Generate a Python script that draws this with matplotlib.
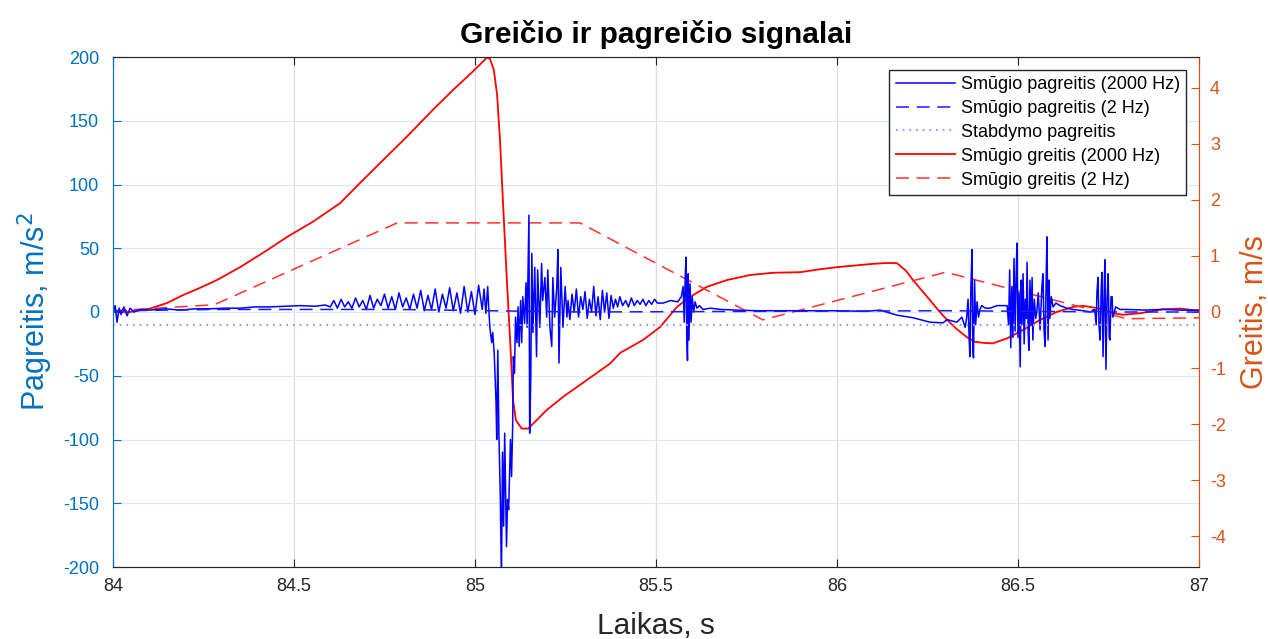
import numpy as np
import matplotlib
matplotlib.use('Agg')
import matplotlib.pyplot as plt

plt.rcParams['font.family'] = ['Liberation Sans', 'DejaVu Sans']
plt.rcParams['axes.unicode_minus'] = False

# smugio pagreitis (2000 Hz), m/s^2
t_acc = [84.000, 84.006, 84.011, 84.017, 84.022, 84.030, 84.039, 84.047, 84.058, 84.075,
         84.102, 84.144, 84.185, 84.227, 84.268, 84.309, 84.351, 84.392, 84.434, 84.475,
         84.517, 84.558, 84.586, 84.60, 84.61, 84.62, 84.63, 84.64, 84.65, 84.66,
         84.67, 84.68, 84.69, 84.70, 84.71, 84.72, 84.73, 84.74, 84.75, 84.76,
         84.77, 84.78, 84.79, 84.80, 84.81, 84.82, 84.83, 84.84, 84.85, 84.86,
         84.87, 84.88, 84.89, 84.90, 84.91, 84.92, 84.93, 84.94, 84.95, 84.96,
         84.97, 84.98, 84.99, 85.00, 85.01, 85.02, 85.025, 85.03, 85.035, 85.038,
         85.041, 85.046, 85.049, 85.053, 85.058, 85.060, 85.063, 85.066, 85.070, 85.073,
         85.076, 85.079, 85.082, 85.087, 85.090, 85.093, 85.098, 85.101, 85.104, 85.106,
         85.109, 85.112, 85.116, 85.119, 85.122, 85.126, 85.129, 85.132, 85.137, 85.141,
         85.144, 85.149, 85.151, 85.154, 85.157, 85.160, 85.165, 85.170, 85.173, 85.179,
         85.184, 85.187, 85.193, 85.198, 85.201, 85.207, 85.212, 85.215, 85.220, 85.226,
         85.229, 85.232, 85.237, 85.243, 85.249, 85.254, 85.257, 85.262, 85.268, 85.274,
         85.280, 85.286, 85.292, 85.298, 85.304, 85.310, 85.316, 85.322, 85.328, 85.334,
         85.340, 85.346, 85.352, 85.358, 85.364, 85.370, 85.376, 85.382, 85.388, 85.394,
         85.400, 85.408, 85.416, 85.424, 85.432, 85.440, 85.448, 85.456, 85.464, 85.472,
         85.480, 85.488, 85.496, 85.504, 85.520, 85.540, 85.560, 85.570, 85.575, 85.578,
         85.581, 85.583, 85.585, 85.587, 85.589, 85.591, 85.594, 85.597, 85.600, 85.604,
         85.608, 85.613, 85.620, 85.630, 85.650, 85.680, 85.720, 85.780, 85.850, 85.900,
         86.000, 86.080, 86.119, 86.166, 86.210, 86.257, 86.293, 86.304, 86.331, 86.345,
         86.354, 86.358, 86.362, 86.365, 86.367, 86.370, 86.373, 86.375, 86.377, 86.380,
         86.383, 86.387, 86.391, 86.395, 86.400, 86.410, 86.423, 86.442, 86.470, 86.474,
         86.477, 86.480, 86.483, 86.486, 86.489, 86.492, 86.495, 86.497, 86.500, 86.503,
         86.506, 86.509, 86.511, 86.514, 86.517, 86.520, 86.523, 86.525, 86.528, 86.530,
         86.533, 86.536, 86.539, 86.541, 86.545, 86.549, 86.552, 86.556, 86.561, 86.566,
         86.569, 86.572, 86.575, 86.578, 86.580, 86.583, 86.586, 86.588, 86.592, 86.597,
         86.605, 86.616, 86.635, 86.652, 86.680, 86.700, 86.712, 86.716, 86.718, 86.721,
         86.724, 86.727, 86.730, 86.732, 86.735, 86.738, 86.740, 86.743, 86.746, 86.749,
         86.752, 86.754, 86.757, 86.760, 86.762, 86.770, 86.782, 86.800, 86.850, 86.900,
         86.950, 87.000]
acc_2000 = [0, 5, -8, 3, -2, 4, -3, 3, 0, 2,
            1.5, 2.5, 1.5, 2.5, 2.5, 3, 3, 4, 4, 4.5,
            5, 4.5, 5.5, 4, 9, 3, 10, 4, 8, 3,
            11, 4, 9, 2, 13, 3, 10, 5, 14, 3,
            12, 2, 15, 4, 11, 2, 14, 3, 17, 1,
            13, 2, 18, 0, 14, 3, 19, 1, 15, -1,
            20, 0, 16, -2, 21, 2, 18, -1, 20, 3,
            -12, -24, -16, -32, -70, -100, -30, -95, -147, -210,
            -110, -168, -95, -184, -147, -155, -100, -129, -90, -35,
            -48, -4, -24, 4, -27, 9, -24, 12, -9, 23,
            -12, 76, -95, -53, 46, -16, 35, -35, 33, -12,
            38, 9, 27, -4, 33, -12, -27, 27, -4, 20,
            49, -40, 35, -12, 20, -4, 9, -6, 14, 0,
            18, -4, 12, 2, 16, -5, 10, 0, 20, -3,
            12, -6, 17, 0, 15, -5, 13, 3, 10, 4,
            12, 5, 9, 4, 11, 5, 9, 6, 10, 5,
            9, 6, 10, 7, 7, 9, 8, 12, 20, -8,
            30, 43, -20, -38, 30, -22, 22, -8, 12, 0,
            8, 3, 5, 2, 3, 2, 1.5, 1, 1, 1,
            1, 0.5, 1.5, -2.5, -4.5, -8, -8.5, -6, -8, -4,
            -12, -5, 10, -20, -35, 20, 49, -28, -36, 25,
            -10, 8, -4, 2, 5, 3, 3, 5, 5, -10,
            33, -28, 20, -20, 42, -15, 30, 54, -20, 15,
            -43, 25, -10, 30, -25, 10, -5, 39, -15, -30,
            25, -10, 27, -22, 10, -5, 0, 15, -14, 20,
            30, -15, -27, 30, 59, -22, 25, -5, 12, 4,
            7, 5, 3, 2, 1, 0, 2, -10, 15, 27,
            -12, -22, 20, 31, -35, 15, 41, -45, 10, 30,
            -20, -22, 12, 12, -4, 4, 2, 2, 1.5, 2,
            1.5, 1.5]

# smugio pagreitis (2 Hz)
t_acc2 = [83.775, 84.28, 84.785, 85.29, 85.795, 86.3, 86.8, 87.3]
acc_2 = [0, 2, 2, 0, 0.5, 1, 0, 0]

# stabdymo pagreitis
brake = -9.81

# smugio greitis (2000 Hz), m/s
t_vel = [84.000, 84.047, 84.102, 84.149, 84.193, 84.240, 84.287, 84.351, 84.425, 84.481,
         84.552, 84.627, 84.682, 84.746, 84.812, 84.884, 84.939, 84.994, 85.033, 85.041,
         85.052, 85.061, 85.069, 85.077, 85.088, 85.097, 85.105, 85.113, 85.129, 85.147,
         85.161, 85.198, 85.244, 85.290, 85.336, 85.373, 85.401, 85.464, 85.511, 85.558,
         85.594, 85.641, 85.696, 85.760, 85.823, 85.898, 85.950, 86.000, 86.050, 86.100,
         86.140, 86.166, 86.190, 86.210, 86.257, 86.280, 86.304, 86.330, 86.359, 86.380,
         86.403, 86.430, 86.470, 86.514, 86.561, 86.607, 86.652, 86.680, 86.718, 86.762,
         86.790, 86.840, 86.900, 86.950, 87.000]
vel_2000 = [0, 0, 0.06, 0.16, 0.30, 0.43, 0.57, 0.80, 1.10, 1.34,
            1.61, 1.94, 2.30, 2.71, 3.13, 3.61, 3.96, 4.29, 4.54, 4.52,
            4.32, 3.88, 3.07, 2.0, 0.57, -0.5, -1.57, -1.93, -2.08, -2.08,
            -1.99, -1.75, -1.51, -1.30, -1.09, -0.92, -0.73, -0.5, -0.27, 0.09,
            0.27, 0.45, 0.57, 0.66, 0.70, 0.71, 0.76, 0.80, 0.83, 0.86,
            0.875, 0.87, 0.74, 0.57, 0.21, 0.03, -0.14, -0.30, -0.45, -0.53,
            -0.55, -0.56, -0.47, -0.32, -0.14, 0.0, 0.09, 0.11, 0.07, -0.02,
            -0.05, -0.02, 0.05, 0.06, 0.02]

# smugio greitis (2 Hz)
t_vel2 = [84.0, 84.28, 84.785, 85.29, 85.795, 86.3, 86.8, 87.3]
vel_2 = [0.02, 0.13, 1.59, 1.59, -0.14, 0.71, -0.12, -0.08]

left_col = '#0072BD'
right_col = '#D95319'
dark = '#262626'

fig = plt.figure(figsize=(12.68, 6.39), dpi=100)
ax = fig.add_axes([113/1268, 72/639, 1086/1268, 510/639])
ax2 = ax.twinx()

# pagreitis (kaire asis)
l1, = ax.plot(t_acc, acc_2000, color='#0000FF', lw=1.1, label='Smūgio pagreitis (2000 Hz)')
l2, = ax.plot(t_acc2, acc_2, color='#1a1aff', lw=1.1, dashes=(8.5, 5), label='Smūgio pagreitis (2 Hz)')
l3, = ax.plot([84, 87], [brake, brake], color='#9b9bff', lw=1.6, dashes=(0.8, 2.2), label='Stabdymo pagreitis')

# greitis (desine asis)
l4, = ax2.plot(t_vel, vel_2000, color='#FF0000', lw=1.3, label='Smūgio greitis (2000 Hz)')
l5, = ax2.plot(t_vel2, vel_2, color='#ff3030', lw=1.1, dashes=(8.5, 5), label='Smūgio greitis (2 Hz)')

# blue on top of red
ax.set_zorder(ax2.get_zorder() + 1)
ax.patch.set_visible(False)

ax.set_xlim(84, 87)
ax.set_ylim(-200, 200)
ax2.set_ylim(-4.55, 4.55)
ax.set_xticks(np.arange(84, 87.01, 0.5))
ax.set_xticklabels(['84', '84.5', '85', '85.5', '86', '86.5', '87'])
ax.set_yticks(np.arange(-200, 201, 50))
ax2.set_yticks(np.arange(-4, 5, 1))

# grid: vertical gray, horizontal light blue
for x in np.arange(84.5, 87, 0.5):
    ax2.axvline(x, color='#dedede', lw=0.9, zorder=0)
for y in np.arange(-150, 200, 50):
    ax2.axhline(y / 200 * 4.55, color='#d9eaf5', lw=0.9, zorder=0)

ax.tick_params(axis='x', direction='in', top=True, colors=dark, labelsize=13, length=6, pad=8)
ax.tick_params(axis='y', direction='in', colors=left_col, labelsize=13, length=6, pad=10)
ax2.tick_params(axis='y', direction='in', colors=right_col, labelsize=13, length=6, pad=8)
ax2.tick_params(axis='x', top=False, bottom=False)

for a in (ax, ax2):
    a.spines['top'].set_color(dark)
    a.spines['bottom'].set_color(dark)
    a.spines['left'].set_color(left_col)
    a.spines['right'].set_color(right_col)

ax.set_xlabel('Laikas, s', fontsize=21.5, color=dark, labelpad=12)
ax.set_ylabel('Pagreitis, m/s$^2$', fontsize=22, color=left_col, labelpad=6)
ax2.set_ylabel('Greitis, m/s', fontsize=22, color=right_col, labelpad=10)
ax.set_title('Greičio ir pagreičio signalai', fontsize=21.5, fontweight='bold', color='black', pad=10)

leg = ax.legend(handles=[l1, l2, l3, l4, l5], loc='upper right', bbox_to_anchor=(0.988, 0.975),
                borderaxespad=0, fontsize=13, handlelength=3.3, labelspacing=0.38,
                fancybox=False, edgecolor=dark, framealpha=1, borderpad=0.35, handletextpad=0.3)
leg.get_frame().set_linewidth(1.0)

plt.savefig('out.png', dpi=100)
